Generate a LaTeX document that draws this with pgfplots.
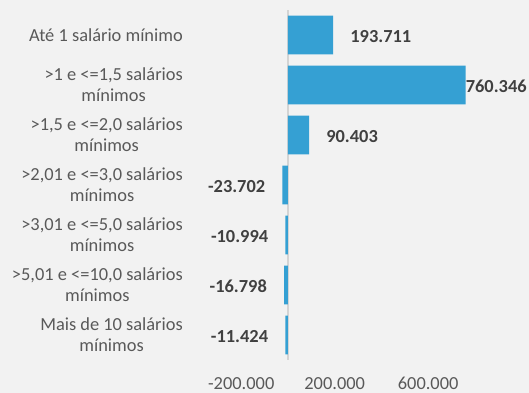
\documentclass[border=0pt]{standalone}
\usepackage{pgfplots}
\pgfplotsset{compat=1.18}
\usepackage{pgfplotstable}
\usepackage{fontspec}
\setmainfont{Carlito}
\definecolor{bg}{HTML}{F2F2F2}
\definecolor{barc}{HTML}{35A0D3}
\definecolor{txt}{HTML}{595959}
\definecolor{lbl}{HTML}{404040}
\definecolor{zl}{HTML}{D4D4D4}
\pgfplotstableread{
y x label shift
0 193711 193.711 17
1 760346 760.346 0
2 90403 90.403 17
}\pos
\pgfplotstableread{
y x label shift
3 -23702 -23.702 -17
4 -10994 -10.994 -17
5 -16798 -16.798 -17
6 -11424 -11.424 -17
}\neg
\begin{document}
\begin{tikzpicture}
\fill[bg] (0,0) rectangle (529bp,393bp);
\begin{axis}[
  at={(194.5bp,33bp)}, anchor=south west,
  scale only axis, width=327.1bp, height=350bp,
  xmin=-400000, xmax=1000000,
  ymin=-0.5, ymax=6.5, y dir=reverse,
  xbar, bar width=38.6bp,
  axis line style={draw=none},
  major tick length=0pt,
  xtick={-200000,200000,600000},
  xticklabels={-200.000,200.000,600.000},
  extra x ticks={0}, extra x tick labels={},
  extra x tick style={grid=major, major grid style={draw=zl, line width=1.3bp}},
  ytick={0,...,6},
  yticklabels={Até 1 salário mínimo,
    {>1 e <=1,5 salários\\mínimos},
    {>1,5 e <=2,0 salários\\mínimos},
    {>2,01 e <=3,0 salários\\mínimos},
    {>3,01 e <=5,0 salários\\mínimos},
    {>5,01 e <=10,0 salários\\mínimos},
    {Mais de 10 salários\\mínimos}},
  every tick label/.append style={font=\fontsize{18.4bp}{21bp}\selectfont, text=txt, inner sep=0pt},
  yticklabel style={align=center, anchor=east, xshift=-11.5bp},
  xticklabel style={anchor=north, yshift=-17bp},
  clip=false,
  point meta=explicit symbolic,
  visualization depends on={\thisrow{shift} \as \myshift},
  nodes near coords,
]
\addplot[fill=barc, draw=none, bar shift=0pt,
  every node near coord/.append style={anchor=west, inner sep=0pt, xshift=\myshift bp, yshift=-1.5bp, font=\fontsize{18.4bp}{21bp}\selectfont\bfseries, text=lbl}]
  table[x=x, y=y, meta=label]{\pos};
\addplot[fill=barc, draw=none, bar shift=0pt,
  every node near coord/.append style={anchor=east, inner sep=0pt, xshift=\myshift bp, yshift=-1.5bp, font=\fontsize{18.4bp}{21bp}\selectfont\bfseries, text=lbl}]
  table[x=x, y=y, meta=label]{\neg};
\end{axis}
\pgfresetboundingbox
\path[use as bounding box] (0,0) rectangle (529bp,393bp);
\end{tikzpicture}
\end{document}
